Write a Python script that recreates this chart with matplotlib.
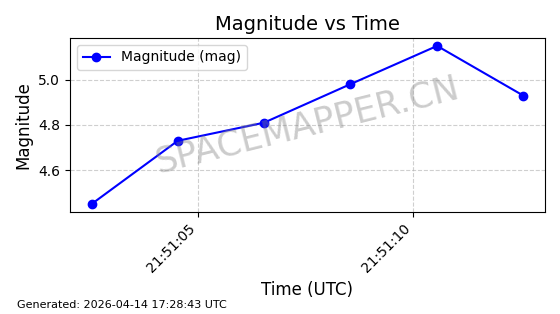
from datetime import datetime

import matplotlib
matplotlib.use("Agg")
import matplotlib.pyplot as plt
import matplotlib.dates as mdates

times = [
    "2026-04-14 21:51:02.53",
    "2026-04-14 21:51:04.53",
    "2026-04-14 21:51:06.53",
    "2026-04-14 21:51:08.53",
    "2026-04-14 21:51:10.55",
    "2026-04-14 21:51:12.55",
]
magnitude = [4.45, 4.73, 4.81, 4.98, 5.15, 4.93]

t = [datetime.strptime(s, "%Y-%m-%d %H:%M:%S.%f") for s in times]

fig = plt.figure(figsize=(5.6, 3.14), dpi=100)
ax = fig.add_subplot(111)
fig.subplots_adjust(left=0.125, right=0.973, top=0.879, bottom=0.325)

ax.plot(t, magnitude, "o-", color="blue", label="Magnitude (mag)", markersize=6)

ax.xaxis.set_major_locator(mdates.SecondLocator(bysecond=range(0, 60, 5)))
ax.xaxis.set_major_formatter(mdates.DateFormatter("%H:%M:%S"))
for lbl in ax.get_xticklabels():
    lbl.set_rotation(45)
    lbl.set_ha("right")

ax.set_title("Magnitude vs Time", fontsize=14)
ax.set_xlabel("Time (UTC)", fontsize=12)
ax.set_ylabel("Magnitude", fontsize=12)
ax.grid(True, linestyle="--", alpha=0.6)
ax.legend(loc="upper left", fontsize=10)

# watermark
ax.text(0.5, 0.5, "SPACEMAPPER.CN", transform=ax.transAxes, fontsize=25,
        color="gray", alpha=0.4, ha="center", va="center", rotation=14)

fig.text(0.03, 0.03, "Generated: 2026-04-14 17:28:43 UTC", fontsize=8,
         ha="left", va="center")

fig.savefig("out.png", dpi=100)
plt.close(fig)
